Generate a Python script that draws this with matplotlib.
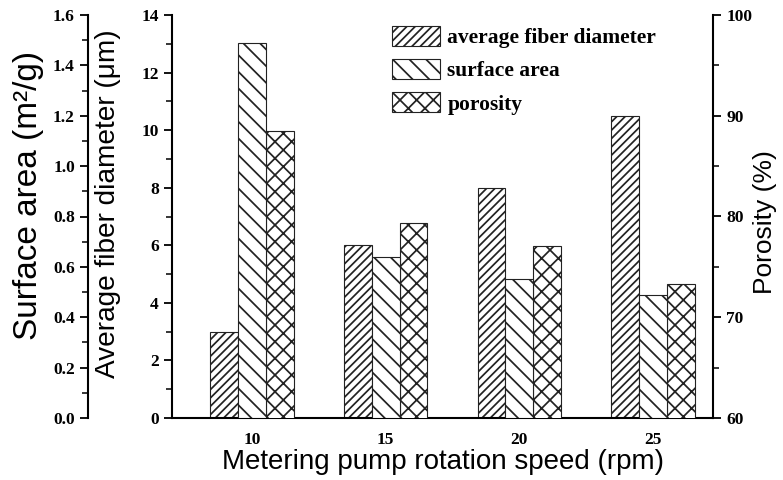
import matplotlib
matplotlib.use("Agg")
import matplotlib.pyplot as plt
from matplotlib.ticker import MultipleLocator
from matplotlib.patches import Patch

# Metering pump rotation speed (rpm)
speeds = [10, 15, 20, 25]
# Average fiber diameter (um)
fiber_diameter = [3.0, 6.0, 8.0, 10.5]
# Surface area (m2/g)
surface_area = [1.49, 0.64, 0.55, 0.49]
# Porosity (%)
porosity = [88.5, 79.4, 77.1, 73.3]

legend_labels = ["average fiber diameter", "surface area", "porosity"]

SERIF = "Liberation Serif"
SANS = "Liberation Sans"
plt.rcParams["hatch.linewidth"] = 1.25

fig = plt.figure(figsize=(7.83, 4.8), dpi=100)
ax = fig.add_axes([172 / 783, 62 / 480, 541 / 783, 403 / 480])
ax_p = ax.twinx()
ax_s = ax.twinx()

w = 1.04
edge = "#222222"
x = speeds
ax.bar([v - w for v in x], fiber_diameter, w, facecolor="white",
       edgecolor=edge, hatch="////", linewidth=0.8)
ax_s.bar(x, surface_area, w, facecolor="white",
         edgecolor=edge, hatch="\\\\", linewidth=0.8)
ax_p.bar([v + w for v in x], porosity, w, facecolor="white",
         edgecolor=edge, hatch="xx", linewidth=0.8)

ax.set_xlim(7, 27.25)
ax.set_ylim(0, 14)
ax_s.set_ylim(0, 1.6)
ax_p.set_ylim(60, 100)

ax.yaxis.set_major_locator(MultipleLocator(2))
ax.yaxis.set_minor_locator(MultipleLocator(1))
ax_s.yaxis.set_major_locator(MultipleLocator(0.2))
ax_s.yaxis.set_minor_locator(MultipleLocator(0.1))
ax_p.yaxis.set_major_locator(MultipleLocator(10))
ax_p.yaxis.set_minor_locator(MultipleLocator(5))
ax.set_xticks(speeds)
ax.set_xticklabels([str(s) for s in speeds])

# surface-area axis sits outside the fiber-diameter axis on the left
ax_s.spines["left"].set_position(("axes", -0.155))
ax_s.spines["left"].set_visible(True)
ax_s.yaxis.set_ticks_position("left")
ax_s.yaxis.set_label_position("left")
for a in (ax, ax_p, ax_s):
    a.spines["top"].set_visible(False)
    for s in a.spines.values():
        s.set_linewidth(1.5)
ax_s.spines["right"].set_visible(False)
ax_s.spines["bottom"].set_visible(False)
ax_p.spines["left"].set_visible(False)
ax_p.spines["bottom"].set_visible(False)
ax.spines["right"].set_visible(False)

for a in (ax, ax_p, ax_s):
    a.tick_params(axis="y", which="major", direction="out", length=6, width=1.3)
    a.tick_params(axis="y", which="minor", direction="out", length=4, width=1.1)
    for lab in a.get_yticklabels():
        lab.set_fontfamily(SERIF)
        lab.set_fontweight("bold")
        lab.set_fontsize(12.5)
ax.tick_params(axis="x", length=0, pad=10)
for lab in ax.get_xticklabels():
    lab.set_fontfamily(SERIF)
    lab.set_fontweight("bold")
    lab.set_fontsize(12.5)

ax.set_xlabel("Metering pump rotation speed (rpm)", fontfamily=SANS, fontsize=20)
ax.xaxis.set_label_coords(0.5, -0.11)
ax.xaxis.label.set_va("center")

ax.set_ylabel("Average fiber diameter (μm)", fontfamily=SANS, fontsize=20.2, va="center")
ax.yaxis.set_label_coords(-0.118, 0.531)
ax_s.set_ylabel("Surface area (m²/g)", fontfamily=SANS, fontsize=24, va="center")
ax_s.yaxis.set_label_coords(-0.266, 0.553)
ax_p.set_ylabel("Porosity (%)", fontfamily=SANS, fontsize=19, va="center", rotation=90)
ax_p.yaxis.set_label_coords(1.096, 0.486)

handles = [
    Patch(facecolor="white", edgecolor=edge, hatch="////", linewidth=0.8),
    Patch(facecolor="white", edgecolor=edge, hatch="\\\\", linewidth=0.8),
    Patch(facecolor="white", edgecolor=edge, hatch="xx", linewidth=0.8),
]
ax_s.legend(handles, legend_labels, loc="upper left",
            bbox_to_anchor=(392 / 783, 1 - 26 / 480), bbox_transform=fig.transFigure,
            frameon=False, borderpad=0, borderaxespad=0,
            handlelength=2.25, handleheight=1.05, handletextpad=0.32, labelspacing=0.5,
            prop={"family": SERIF, "weight": "bold", "size": 15.5})

fig.savefig("out.png", dpi=100)
